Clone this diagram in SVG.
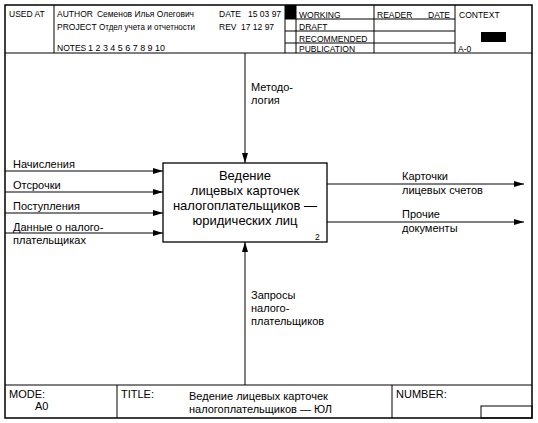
<svg xmlns="http://www.w3.org/2000/svg" width="538" height="423" viewBox="0 0 538 423">
<style>
text{font-family:"Liberation Sans",Arial,sans-serif;fill:#000}
.h{font-size:8.5px}
.hc{font-size:8.3px}
.l{font-size:11px}
.b{font-size:13px;text-anchor:middle}
.f{font-size:11px}
.ln{stroke:#000;stroke-width:1;fill:none}
.fr{stroke:#000;stroke-width:1.5;fill:none}
</style>
<defs>
<marker id="ah" viewBox="0 0 10 6" refX="10" refY="3" markerWidth="10" markerHeight="6" markerUnits="userSpaceOnUse" orient="auto">
<path d="M0,0 L10,3 L0,6 z" fill="#000"/>
</marker>
</defs>
<rect x="0" y="0" width="538" height="423" fill="#fff"/>
<g id="frame">
<rect class="fr" x="5" y="5" width="527" height="413"/>
<line class="ln" x1="5" y1="53" x2="532" y2="53"/>
<line class="ln" x1="5" y1="385" x2="532" y2="385"/>
</g>
<g id="header">
<line class="ln" x1="54" y1="5" x2="54" y2="53"/>
<line class="ln" x1="285" y1="5" x2="285" y2="53"/>
<line class="ln" x1="296" y1="5" x2="296" y2="53"/>
<line class="ln" x1="374" y1="5" x2="374" y2="53"/>
<line class="ln" x1="455" y1="5" x2="455" y2="53"/>
<line class="ln" x1="285" y1="19" x2="455" y2="19"/>
<line class="ln" x1="285" y1="31" x2="455" y2="31"/>
<line class="ln" x1="285" y1="43" x2="455" y2="43"/>
<rect x="285" y="5" width="11" height="14" fill="#000"/>
<text class="h" x="9" y="17">USED AT</text>
<text class="h" x="57" y="17">AUTHOR</text>
<text class="hc" x="97" y="17" textLength="97" lengthAdjust="spacingAndGlyphs">Семенов Илья Олегович</text>
<text class="h" x="219" y="17">DATE</text>
<text class="h" x="248" y="17">15 03 97</text>
<text class="h" x="57" y="30">PROJECT</text>
<text class="hc" x="99" y="30" textLength="96" lengthAdjust="spacingAndGlyphs">Отдел учета и отчетности</text>
<text class="h" x="219" y="30">REV</text>
<text class="h" x="241" y="30">17 12 97</text>
<text class="h" x="57" y="51">NOTES</text>
<text class="h" x="88" y="51" textLength="77" lengthAdjust="spacingAndGlyphs">1 2 3 4 5 6 7 8 9 10</text>
<text class="h" x="299" y="18">WORKING</text>
<text class="h" x="299" y="30">DRAFT</text>
<text class="h" x="299" y="42">RECOMMENDED</text>
<text class="h" x="299" y="52">PUBLICATION</text>
<text class="h" x="377" y="18">READER</text>
<text class="h" x="428" y="18">DATE</text>
<text class="h" x="459" y="18">CONTEXT</text>
<rect x="481" y="32" width="25" height="10" fill="#000"/>
<text class="h" x="458" y="52">A-0</text>
</g>
<g id="connectors">
<line class="ln" x1="5" y1="171" x2="163" y2="171" marker-end="url(#ah)"/>
<line class="ln" x1="5" y1="192" x2="163" y2="192" marker-end="url(#ah)"/>
<line class="ln" x1="5" y1="213" x2="163" y2="213" marker-end="url(#ah)"/>
<line class="ln" x1="5" y1="233" x2="163" y2="233" marker-end="url(#ah)"/>
<line class="ln" x1="327" y1="184" x2="524" y2="184" marker-end="url(#ah)"/>
<line class="ln" x1="327" y1="222" x2="524" y2="222" marker-end="url(#ah)"/>
<line class="ln" x1="245" y1="53" x2="245" y2="163" marker-end="url(#ah)"/>
<line class="ln" x1="245" y1="385" x2="245" y2="242" marker-end="url(#ah)"/>
<text class="l" x="13" y="168">Начисления</text>
<text class="l" x="13" y="189">Отсрочки</text>
<text class="l" x="13" y="210">Поступления</text>
<text class="l" x="13" y="231">Данные о налого-</text>
<text class="l" x="13" y="244">плательщиках</text>
<text class="l" x="402" y="180">Карточки</text>
<text class="l" x="402" y="194">лицевых счетов</text>
<text class="l" x="402" y="218">Прочие</text>
<text class="l" x="402" y="232">документы</text>
<text class="l" x="251" y="91">Методо-</text>
<text class="l" x="251" y="104">логия</text>
<text class="l" x="251" y="299">Запросы</text>
<text class="l" x="251" y="312">налого-</text>
<text class="l" x="251" y="325">плательщиков</text>
</g>
<g id="node-A2">
<rect x="163" y="163" width="164" height="79" fill="#fff" stroke="#000" stroke-width="1.3"/>
<text class="b" x="245" y="180">Ведение</text>
<text class="b" x="245" y="195">лицевых карточек</text>
<text class="b" x="245" y="210">налогоплательщиков —</text>
<text class="b" x="245" y="225">юридических лиц</text>
<text class="h" x="315" y="240">2</text>
</g>
<g id="footer">
<line class="ln" x1="117" y1="385" x2="117" y2="418"/>
<line class="ln" x1="392" y1="385" x2="392" y2="418"/>
<rect class="ln" x="481" y="406" width="51" height="12"/>
<text class="f" x="9" y="398">MODE:</text>
<text class="f" x="35" y="410">A0</text>
<text class="f" x="121" y="398">TITLE:</text>
<text class="l" x="189" y="400">Ведение лицевых карточек</text>
<text class="l" x="189" y="413">налогоплательщиков — ЮЛ</text>
<text class="f" x="396" y="398">NUMBER:</text>
</g>
</svg>
